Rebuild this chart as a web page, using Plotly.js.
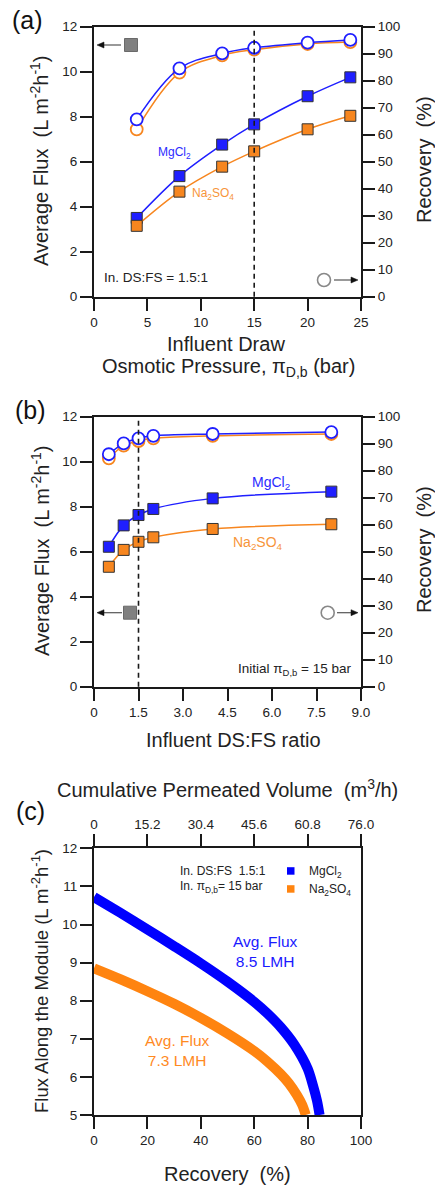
<!DOCTYPE html>
<html>
<head>
<meta charset="utf-8">
<script src="https://cdn.plot.ly/plotly-3.0.1.min.js"></script>
<style>html,body{margin:0;padding:0;background:#fff;}#chart{width:435px;height:1187px;}</style>
</head>
<body>
<div id="chart"></div>
<script>
// ---------- DATA ----------
// Panel (a): influent draw osmotic pressure (bar)
const drawPressureA = [4, 8, 12, 15, 20, 24];
const fluxA_MgCl2   = [3.50, 5.36, 6.76, 7.66, 8.91, 9.75];
const fluxA_Na2SO4  = [3.15, 4.67, 5.78, 6.46, 7.44, 8.04];
const recA_MgCl2    = [65.7, 84.6, 90.1, 92.2, 94.1, 95.1];
const recA_Na2SO4   = [62.0, 83.0, 89.4, 91.5, 93.6, 94.3];
const markerA = 15;

// Panel (b): influent DS:FS ratio
const ratioB        = [0.5, 1.0, 1.5, 2.0, 4.0, 8.0];
const fluxB_MgCl2   = [6.22, 7.17, 7.63, 7.90, 8.37, 8.67];
const fluxB_Na2SO4  = [5.33, 6.08, 6.44, 6.64, 7.01, 7.22];
const recB_MgCl2    = [86.1, 90.1, 92.0, 92.9, 93.6, 94.3];
const recB_Na2SO4   = [84.6, 89.3, 91.0, 92.0, 92.9, 93.6];
const markerB = 1.5;
const ratioTickVals = [0, 1.5, 3.0, 4.5, 6.0, 7.5, 9.0];
const ratioTickText = ['0', '1.5', '3.0', '4.5', '6.0', '7.5', '9.0'];

// Panel (c): flux along the module vs recovery
const recC_MgCl2   = [0, 10, 20, 30, 40, 50, 60, 65, 70, 75, 80, 82, 83.5, 84.5];
const fluxC_MgCl2  = [10.72, 10.30, 9.87, 9.43, 8.98, 8.50, 7.97, 7.66, 7.30, 6.85, 6.22, 5.78, 5.38, 5.0];
const recC_Na2SO4  = [0, 10, 20, 30, 40, 50, 60, 65, 70, 73, 76, 78, 79.3];
const fluxC_Na2SO4 = [8.85, 8.56, 8.25, 7.92, 7.55, 7.14, 6.68, 6.40, 6.07, 5.83, 5.52, 5.26, 5.0];
const volTickVals = [0, 15.2, 30.4, 45.6, 60.8, 76.0];
const volTickText = ['0', '15.2', '30.4', '45.6', '60.8', '76.0'];

// ---------- STYLE ----------
const W = 435, H = 1187;
const X = px => px / W;
const Y = py => 1 - py / H;
const FONT = 'Liberation Sans, Arial, sans-serif';
const BLUE = '#1f1fff', ORANGE = '#f7861f';
const BLUE_T = '#2b2bff', ORANGE_T = '#f7953a';
const INK = '#1a1a1a';

const axBase = {
  showline: true, linecolor: INK, linewidth: 2,
  ticks: 'outside', ticklen: 12, tickwidth: 2, tickcolor: INK,
  showgrid: false, zeroline: false,
  tickfont: {size: 13.5, color: '#222', family: FONT}
};

function sq(color){ return {symbol:'square', size:11, color:color, line:{color:'#333', width:1}}; }
function circ(color){ return {symbol:'circle', size:12, color:'#fff', line:{color:color, width:1.8}}; }

const traces = [
  // (a)
  {x: drawPressureA, y: recA_Na2SO4, xaxis:'x', yaxis:'y2', mode:'lines+markers', line:{color:ORANGE, width:1.5, shape:'spline'}, marker:circ(ORANGE)},
  {x: drawPressureA, y: recA_MgCl2,  xaxis:'x', yaxis:'y2', mode:'lines+markers', line:{color:BLUE, width:1.5, shape:'spline'}, marker:circ(BLUE)},
  {x: drawPressureA, y: fluxA_MgCl2, xaxis:'x', yaxis:'y', mode:'lines+markers', line:{color:BLUE, width:1.5, shape:'spline'}, marker:sq(BLUE)},
  {x: drawPressureA, y: fluxA_Na2SO4, xaxis:'x', yaxis:'y', mode:'lines+markers', line:{color:ORANGE, width:1.5, shape:'spline'}, marker:sq(ORANGE)},
  // (b)
  {x: ratioB, y: recB_Na2SO4, xaxis:'x2', yaxis:'y4', mode:'lines+markers', line:{color:ORANGE, width:1.5, shape:'spline'}, marker:circ(ORANGE)},
  {x: ratioB, y: recB_MgCl2,  xaxis:'x2', yaxis:'y4', mode:'lines+markers', line:{color:BLUE, width:1.5, shape:'spline'}, marker:circ(BLUE)},
  {x: ratioB, y: fluxB_MgCl2, xaxis:'x2', yaxis:'y3', mode:'lines+markers', line:{color:BLUE, width:1.5, shape:'spline'}, marker:sq(BLUE)},
  {x: ratioB, y: fluxB_Na2SO4, xaxis:'x2', yaxis:'y3', mode:'lines+markers', line:{color:ORANGE, width:1.5, shape:'spline'}, marker:sq(ORANGE)},
  // (c)
  {x: recC_Na2SO4, y: fluxC_Na2SO4, xaxis:'x3', yaxis:'y5', mode:'lines', line:{color:'#ff8410', width:10, shape:'spline', smoothing:0.8}},
  {x: recC_MgCl2, y: fluxC_MgCl2, xaxis:'x3', yaxis:'y5', mode:'lines', line:{color:'#0000ff', width:10, shape:'spline', smoothing:0.8}},
  {x: [], y: [], xaxis:'x4', yaxis:'y5', mode:'lines'}
];

const dA = [X(94), X(361)];
const layout = {
  width: W, height: H,
  margin: {l:0, r:0, t:0, b:0},
  paper_bgcolor: '#fff', plot_bgcolor: 'rgba(0,0,0,0)',
  showlegend: false,
  font: {family: FONT, color: '#222', size: 13},
  xaxis:  Object.assign({}, axBase, {domain: dA, anchor:'y', range:[0,25], tickvals:[0,5,10,15,20,25], mirror:true}),
  yaxis:  Object.assign({}, axBase, {domain:[Y(296.7), Y(26.7)], anchor:'x', range:[0,12], tick0:0, dtick:2, mirror:true}),
  yaxis2: Object.assign({}, axBase, {overlaying:'y', side:'right', anchor:'x', range:[0,100], tick0:0, dtick:10}),
  xaxis2: Object.assign({}, axBase, {domain: dA, anchor:'y3', range:[0,9], tickvals: ratioTickVals, ticktext: ratioTickText, mirror:true}),
  yaxis3: Object.assign({}, axBase, {domain:[Y(686.7), Y(416.7)], anchor:'x2', range:[0,12], tick0:0, dtick:2, mirror:true}),
  yaxis4: Object.assign({}, axBase, {overlaying:'y3', side:'right', anchor:'x2', range:[0,100], tick0:0, dtick:10}),
  xaxis3: Object.assign({}, axBase, {domain: dA, anchor:'y5', range:[0,100], tick0:0, dtick:20, mirror:true}),
  xaxis4: Object.assign({}, axBase, {overlaying:'x3', side:'top', anchor:'y5', range:[0,76], tickvals: volTickVals, ticktext: volTickText}),
  yaxis5: Object.assign({}, axBase, {domain:[Y(1115), Y(848.3)], anchor:'x3', range:[5,12], tick0:5, dtick:1, mirror:true}),
  shapes: [
    {type:'line', xref:'x', yref:'y domain', x0:markerA, x1:markerA, y0:0, y1:1, line:{color:INK, width:1.6, dash:'5px,4px'}},
    {type:'line', xref:'x2', yref:'y3 domain', x0:markerB, x1:markerB, y0:0, y1:1, line:{color:INK, width:1.6, dash:'5px,4px'}},
    // axis key symbols
    {type:'rect', xref:'paper', yref:'paper', x0:X(124.5), x1:X(137.5), y0:Y(51.5), y1:Y(38.5), fillcolor:'#808080', line:{color:'#6a6a6a', width:1}},
    {type:'circle', xref:'paper', yref:'paper', x0:X(317.5), x1:X(330.5), y0:Y(286.5), y1:Y(273.5), fillcolor:'#fff', line:{color:'#888', width:1.6}},
    {type:'rect', xref:'paper', yref:'paper', x0:X(123.5), x1:X(136.5), y0:Y(619.2), y1:Y(606.2), fillcolor:'#808080', line:{color:'#6a6a6a', width:1}},
    {type:'circle', xref:'paper', yref:'paper', x0:X(321.2), x1:X(334.2), y0:Y(619.2), y1:Y(606.2), fillcolor:'#fff', line:{color:'#888', width:1.6}},
    // legend squares (c)
    {type:'rect', xref:'paper', yref:'paper', x0:X(287), x1:X(294.5), y0:Y(874.7), y1:Y(867.2), fillcolor:'#0000ff', line:{width:0}},
    {type:'rect', xref:'paper', yref:'paper', x0:X(287), x1:X(294.5), y0:Y(892.7), y1:Y(885.2), fillcolor:'#ff8410', line:{width:0}}
  ],
  annotations: []
};

// arrows as shapes: tail -> tip
function arrowShapes(tipX, tipY, tailX){
  const dir = tailX > tipX ? 1 : -1;
  const bx = tipX + dir * 7;
  return [
    {type:'line', xref:'paper', yref:'paper', x0:X(tailX), x1:X(bx), y0:Y(tipY), y1:Y(tipY), line:{color:'#555', width:1.2}},
    {type:'path', xref:'paper', yref:'paper',
     path:'M ' + X(tipX) + ' ' + Y(tipY) + ' L ' + X(bx) + ' ' + Y(tipY - 3) + ' L ' + X(bx) + ' ' + Y(tipY + 3) + ' Z',
     fillcolor:'#111', line:{color:'#111', width:0.5}}
  ];
}
layout.shapes.push(...arrowShapes(97, 45, 121));
layout.shapes.push(...arrowShapes(358, 280, 334));
layout.shapes.push(...arrowShapes(97, 612.7, 122));
layout.shapes.push(...arrowShapes(358, 612.7, 337));

function txt(text, x, y, opts){
  return Object.assign({text:text, xref:'paper', yref:'paper', x:X(x), y:Y(y), showarrow:false,
    xanchor:'center', yanchor:'middle', font:{family:FONT, size:13, color:'#222'}}, opts || {});
}
const A = layout.annotations;
// panel labels
A.push(txt('(a)', 27.5, 20, {font:{family:FONT, size:25, color:'#111'}}));
A.push(txt('(b)', 30, 410, {font:{family:FONT, size:25, color:'#111'}}));
A.push(txt('(c)', 30, 811, {font:{family:FONT, size:25, color:'#111'}}));
// axis titles
const yTitle = 'Average Flux\u00A0 (L m<sup>-2</sup>h<sup>-1</sup>)';
A.push(txt(yTitle, 40, 161, {textangle:-90, font:{family:FONT, size:20, color:'#222'}}));
A.push(txt('Recovery\u00A0 (%)', 424, 160, {textangle:-90, font:{family:FONT, size:20, color:'#222'}}));
A.push(txt('Influent Draw', 226, 344, {font:{family:FONT, size:20, color:'#222'}}));
A.push(txt('Osmotic Pressure, π<sub>D,b</sub> (bar)', 228, 367, {font:{family:FONT, size:20, color:'#222'}}));
A.push(txt(yTitle, 40, 551, {textangle:-90, font:{family:FONT, size:20, color:'#222'}}));
A.push(txt('Recovery\u00A0 (%)', 424, 550, {textangle:-90, font:{family:FONT, size:20, color:'#222'}}));
A.push(txt('Influent DS:FS ratio', 234, 740, {font:{family:FONT, size:20, color:'#222'}}));
A.push(txt('Cumulative Permeated Volume\u00A0 (m<sup>3</sup>/h)', 227, 788, {font:{family:FONT, size:20, color:'#222'}}));
A.push(txt('Flux Along the Module (L m<sup>-2</sup>h<sup>-1</sup>)', 40, 981, {textangle:-90, font:{family:FONT, size:18.5, color:'#222'}}));
A.push(txt('Recovery\u00A0 (%)', 227, 1174, {font:{family:FONT, size:20, color:'#222'}}));
// in-plot labels (a)
A.push(txt('MgCl<sub>2</sub>', 174, 153, {font:{family:FONT, size:12, color:BLUE_T}}));
A.push(txt('Na<sub>2</sub>SO<sub>4</sub>', 213, 194, {font:{family:FONT, size:12, color:ORANGE_T}}));
A.push(txt('In. DS:FS = 1.5:1', 101.5, 278, {xanchor:'left', font:{family:FONT, size:13.5, color:'#222'}}));
// (b)
A.push(txt('MgCl<sub>2</sub>', 271, 483, {font:{family:FONT, size:14, color:BLUE_T}}));
A.push(txt('Na<sub>2</sub>SO<sub>4</sub>', 258, 543, {font:{family:FONT, size:14, color:ORANGE_T}}));
A.push(txt('Initial π<sub>D,b</sub> = 15 bar', 353, 669, {xanchor:'right', font:{family:FONT, size:13.5, color:'#222'}}));
// (c)
A.push(txt('In. DS:FS\u00A0 1.5:1', 178, 871, {xanchor:'left', font:{family:FONT, size:12, color:'#222'}}));
A.push(txt('In. π<sub>D,b</sub>= 15 bar', 178, 887, {xanchor:'left', font:{family:FONT, size:12, color:'#222'}}));
A.push(txt('MgCl<sub>2</sub>', 306.5, 872, {xanchor:'left', font:{family:FONT, size:12, color:'#222'}}));
A.push(txt('Na<sub>2</sub>SO<sub>4</sub>', 306.5, 890, {xanchor:'left', font:{family:FONT, size:12, color:'#222'}}));
A.push(txt('Avg. Flux<br>8.5 LMH', 265.5, 951, {font:{family:FONT, size:15.5, color:'#1a1aff'}}));
A.push(txt('Avg. Flux<br>7.3 LMH', 177.7, 1050.5, {font:{family:FONT, size:15.5, color:'#ff8a1f'}}));

Plotly.newPlot('chart', traces, layout, {displayModeBar:false, staticPlot:true});
</script>
</body>
</html>
